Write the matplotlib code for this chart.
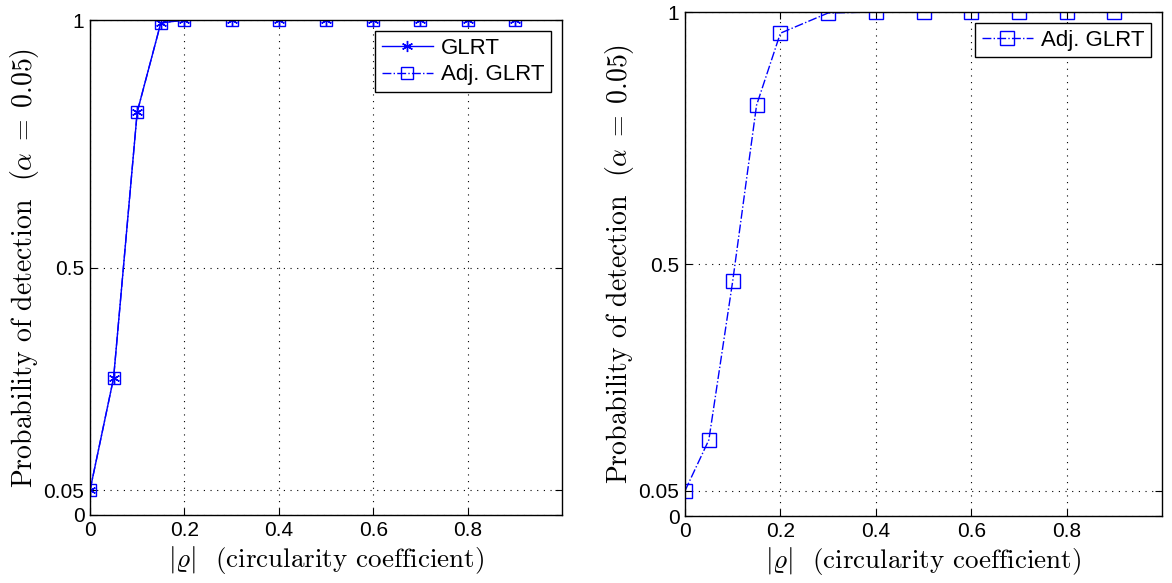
import matplotlib
matplotlib.use("Agg")
import matplotlib.pyplot as plt

plt.rcParams['mathtext.fontset'] = 'cm'
plt.rcParams['font.family'] = ['Liberation Sans', 'DejaVu Sans']

rho_left = [0, 0.05, 0.1, 0.15, 0.2, 0.3, 0.4, 0.5, 0.6, 0.7, 0.8, 0.9]
glrt = [0.05, 0.277, 0.814, 0.994, 1.0, 1.0, 1.0, 1.0, 1.0, 1.0, 1.0, 1.0]
adj_glrt_left = [0.05, 0.277, 0.814, 0.994, 1.0, 1.0, 1.0, 1.0, 1.0, 1.0, 1.0, 1.0]

rho_right = [0, 0.05, 0.1, 0.15, 0.2, 0.3, 0.4, 0.5, 0.6, 0.7, 0.8, 0.9]
adj_glrt_right = [0.05, 0.151, 0.466, 0.815, 0.958, 0.998, 1.0, 1.0, 1.0, 1.0, 1.0, 1.0]

xticks = [0, 0.2, 0.4, 0.6, 0.8]
yticks = [0, 0.05, 0.5, 1]
ytick_labels = ['0', '0.05', '0.5', '1']
xtick_labels = ['0', '0.2', '0.4', '0.6', '0.8']

fig = plt.figure(figsize=(11.72, 5.83), dpi=100)
ax1 = fig.add_axes([90/1172, 68/583, (562-90)/1172, (515-20)/583])
ax2 = fig.add_axes([685/1172, 67/583, (1162-685)/1172, (516-12)/583])

ax1.plot(rho_left, glrt, color='blue', linestyle='-', marker=(6, 2, 0), ms=8, mew=1, lw=1, label='GLRT')
ax1.plot(rho_left, adj_glrt_left, color='blue', linestyle='-.', marker='s', ms=9, mfc='none', lw=1, label='Adj. GLRT')
ax2.plot(rho_right, adj_glrt_right, color='blue', linestyle='-.', marker='s', ms=9.5, mfc='none', lw=1, label='Adj. GLRT')

ylabel = r'Probability of detection  $(\alpha\;=\;0.05)$'
xlabel = r'$|\varrho|$  (circularity coefficient)'
for ax in (ax1, ax2):
    ax.set_xlim(0, 1)
    ax.set_ylim(0, 1)
    ax.set_xticks(xticks)
    ax.set_xticklabels(xtick_labels)
    ax.set_yticks(yticks)
    ax.set_yticklabels(ytick_labels)
    ax.tick_params(direction='in', top=True, right=True, labelsize=15, length=5, width=0.8, pad=4)
    ax.grid(True, linestyle=(0, (1, 5)), color='black', linewidth=0.8)
    for s in ax.spines.values():
        s.set_linewidth(1.0)
    ax.set_ylabel(ylabel, fontsize=20, family='cmr10', labelpad=2)
    ax.set_xlabel(xlabel, fontsize=19.5, family='cmr10', labelpad=3)
    leg = ax.legend(loc='upper right', fontsize=16, fancybox=False, edgecolor='black',
                    framealpha=1, handlelength=2.3, handletextpad=0.35, borderaxespad=0.5,
                    borderpad=0.3, labelspacing=0.25)
    leg.get_frame().set_linewidth(1.0)

fig.savefig('out.png', dpi=100)
